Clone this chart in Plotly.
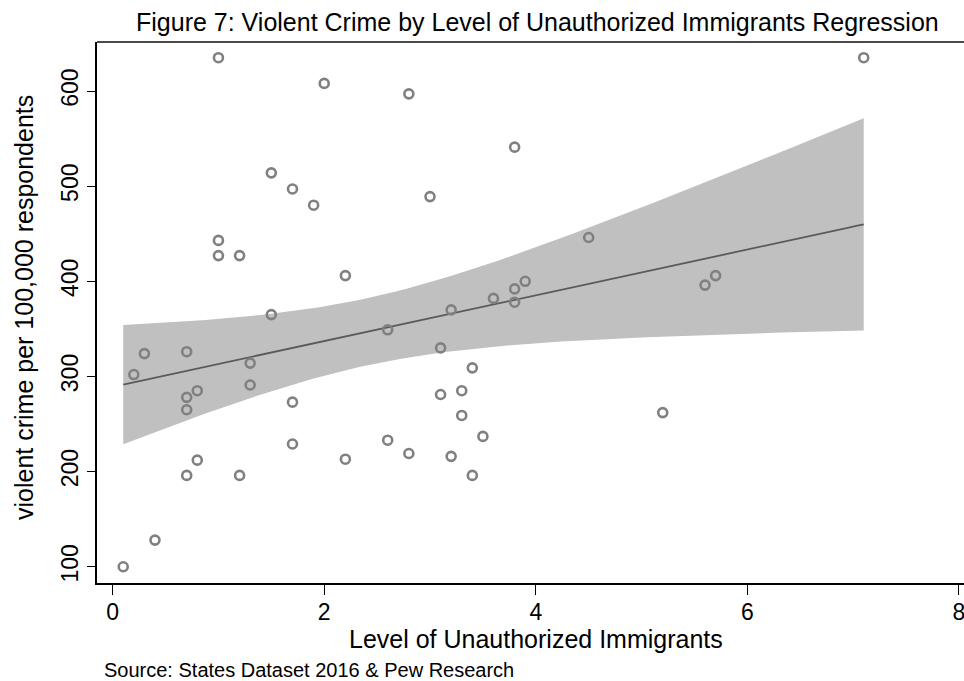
import numpy as np
import plotly.graph_objects as go

# Unauthorized immigrant level (% of population) and violent crime rate by state
immigrant_level = [
    1.0, 2.0, 2.8, 1.5, 1.7, 1.9, 3.0, 1.0, 1.0, 1.2,
    2.2, 1.5, 2.6, 3.2, 7.1, 3.8, 4.5, 3.6, 3.8, 3.9,
    3.8, 5.6, 5.7, 0.3, 0.2, 0.7, 1.3, 1.3, 0.7, 0.8,
    0.7, 1.7, 1.7, 0.8, 0.7, 1.2, 0.4, 0.1, 2.2, 2.6,
    2.8, 3.1, 3.4, 3.1, 3.3, 3.3, 3.2, 3.4, 3.5, 5.2,
]
violent_crime = [
    635, 608, 597, 514, 497, 480, 489, 443, 427, 427,
    406, 365, 349, 370, 635, 541, 446, 382, 392, 400,
    378, 396, 406, 324, 302, 326, 314, 291, 278, 285,
    265, 273, 229, 212, 196, 196, 128, 100, 213, 233,
    219, 330, 309, 281, 285, 259, 216, 196, 237, 262,
]

x_ticks = [0, 2, 4, 6, 8]
y_ticks = [100, 200, 300, 400, 500, 600]

# Linear fit with 95% confidence interval of the mean prediction
x = np.asarray(immigrant_level, dtype=float)
y = np.asarray(violent_crime, dtype=float)
n = len(x)
b, a = np.polyfit(x, y, 1)
resid = y - (a + b * x)
s = np.sqrt(np.sum(resid ** 2) / (n - 2))
sxx = np.sum((x - x.mean()) ** 2)
t_crit = 2.0106  # t(0.975, df=48)
grid = np.linspace(x.min(), x.max(), 100)
fit = a + b * grid
se = s * np.sqrt(1.0 / n + (grid - x.mean()) ** 2 / sxx)
lower = fit - t_crit * se
upper = fit + t_crit * se

W, H = 964, 681
L, R, T, B = 97, 0, 42, 98
pw, ph = W - L - R, H - T - B


def px(xp):
    return (xp - L) / pw


def py(yp):
    return (H - B - yp) / ph


FONT = "Liberation Sans, Arial, Helvetica, sans-serif"

fig = go.Figure()
fig.add_trace(go.Scatter(x=grid, y=lower, mode="lines", line=dict(width=0),
                         hoverinfo="skip", showlegend=False))
fig.add_trace(go.Scatter(x=grid, y=upper, mode="lines", line=dict(width=0),
                         fill="tonexty", fillcolor="#c0c0c0",
                         hoverinfo="skip", showlegend=False))
fig.add_trace(go.Scatter(x=grid, y=fit, mode="lines",
                         line=dict(color="#5a5a5a", width=1.8), showlegend=False))
fig.add_trace(go.Scatter(x=immigrant_level, y=violent_crime, mode="markers",
                         marker=dict(symbol="circle-open", size=9, color="#808080",
                                     line=dict(width=2.6, color="#808080")),
                         showlegend=False))

fig.update_layout(
    width=W, height=H,
    margin=dict(l=L, r=R, t=T, b=B, autoexpand=False),
    paper_bgcolor="white", plot_bgcolor="white",
    font=dict(family=FONT, color="black", size=23),
    xaxis=dict(range=[-0.148, 8.048], tickvals=x_ticks, ticks="outside", ticklen=10,
               tickwidth=1.3, tickcolor="black", showline=True, linecolor="black",
               linewidth=2, showgrid=False, zeroline=False, ticklabelstandoff=-3,
               tickfont=dict(size=23), automargin=False, ticklabeloverflow="allow"),
    yaxis=dict(range=[82.9, 651.5], tickvals=y_ticks, ticks="outside", ticklen=8,
               tickwidth=1.3, tickcolor="black", showline=True, linecolor="black",
               linewidth=2, showgrid=False, zeroline=False, tickangle=-90,
               tickfont=dict(size=23), automargin=False),
    shapes=[dict(type="line", xref="paper", yref="paper", x0=0, x1=1, y0=1, y1=1,
                 line=dict(color="#4a4a4a", width=2))],
    annotations=[
        dict(text="Figure 7: Violent Crime by Level of Unauthorized Immigrants Regression",
             xref="paper", yref="paper", x=px(537), y=py(22), xanchor="center",
             yanchor="middle", showarrow=False, font=dict(size=25)),
        dict(text="Level of Unauthorized Immigrants", xref="paper", yref="paper",
             x=px(536), y=py(639), xanchor="center", yanchor="middle",
             showarrow=False, font=dict(size=25)),
        dict(text="violent crime per 100,000 respondents", xref="paper", yref="paper",
             x=px(24), y=py(308), xanchor="center", yanchor="middle", textangle=-90,
             showarrow=False, font=dict(size=25)),
        dict(text="Source: States Dataset 2016 & Pew Research", xref="paper",
             yref="paper", x=px(102), y=py(670), xanchor="left", yanchor="middle",
             showarrow=False, font=dict(size=20)),
    ],
)

fig.write_html("out.html")
